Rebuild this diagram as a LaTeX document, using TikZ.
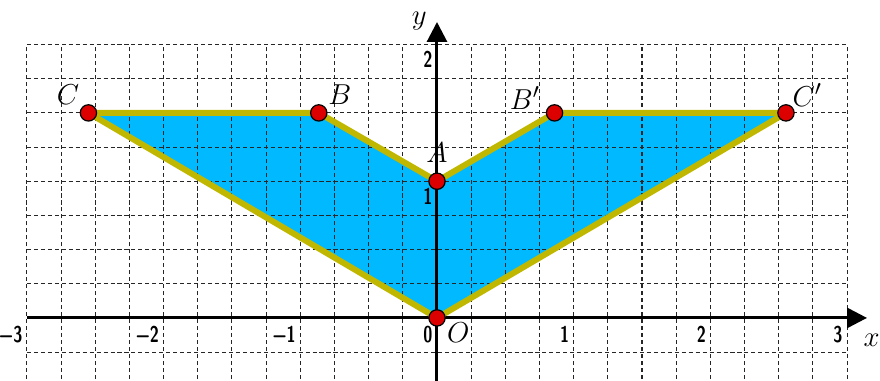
\documentclass[tikz,border=0pt]{standalone}
\usepackage{fontspec}
\usetikzlibrary{arrows.meta}

\definecolor{azzurro}{RGB}{0,185,255}
\definecolor{oliva}{RGB}{192,184,0}
\definecolor{rosso}{RGB}{220,0,0}
\newcommand{\numstretto}[1]{\scalebox{0.72}[1]{#1}}

\begin{document}
\begin{tikzpicture}[x=2cm, y=2cm, >={Triangle[length=8.3pt,width=8.3pt]},
    griglia/.style={black!85, line width=0.45pt, dash pattern=on 1.7pt off 1.2pt},
    asse/.style={->, line width=1.25pt},
    lato/.style={oliva, line width=2.5pt, line join=round},
    punto/.style={circle, fill=rosso, draw=black, line width=0.5pt, inner sep=0pt, minimum size=6.8pt},
    lettera/.style={font=\fontsize{13}{15}\selectfont, inner sep=0pt},
    tacca/.style={font=\fontsize{9.5}{10}\selectfont\sffamily\bfseries, inner sep=0pt, anchor=north east}]

    % Cornice
    \useasboundingbox (-3.197,-0.461) rectangle (3.241,2.326);
    \clip (-3.197,-0.461) rectangle (3.241,2.326);

    % Punti
    \coordinate (O) at (0,0);
    \coordinate (A) at (0,1);
    \coordinate (B) at (-0.865,1.5);
    \coordinate (C) at (-2.55,1.5);
    \coordinate (B1) at (0.86,1.5);
    \coordinate (C1) at (2.553,1.5);

    % Regione colorata
    \fill[azzurro] (O) -- (C) -- (B) -- (A) -- (B1) -- (C1) -- cycle;

    % Griglia tratteggiata
    \draw[griglia] (-3,-0.75) grid[step=0.25] (3,2);

    % Assi
    \coordinate (xsx) at (-3,0);
    \coordinate (xdx) at (3.146,0);
    \coordinate (ygiu) at (0,-0.6);
    \coordinate (ysu) at (0,2.165);
    \draw[asse] (xsx) -- (xdx);
    \draw[asse] (ygiu) -- (ysu);
    \node[lettera] (lx) at (3.18,-0.16) {$x$};
    \node[lettera] (ly) at (-0.13,2.17) {$y$};

    % Tacche
    \node[tacca] (tm3) at (-3.03,-0.06) {\numstretto{−3}};
    \node[tacca] (tm2) at (-2.03,-0.06) {\numstretto{−2}};
    \node[tacca] (tm1) at (-1.03,-0.06) {\numstretto{−1}};
    \node[tacca] (t0) at (-0.03,-0.06) {\numstretto{0}};
    \node[tacca] (t1) at (0.97,-0.06) {\numstretto{1}};
    \node[tacca] (t2) at (1.97,-0.06) {\numstretto{2}};
    \node[tacca] (t3) at (2.97,-0.06) {\numstretto{3}};
    \node[tacca] (ty1) at (-0.03,0.955) {\numstretto{1}};
    \node[tacca] (ty2) at (-0.03,1.955) {\numstretto{2}};

    % Contorno
    \draw[lato] (O) -- (C) -- (B) -- (A) -- (B1) -- (C1) -- cycle;

    % Vertici
    \node[punto] (pO) at (O) {};
    \node[punto] (pA) at (A) {};
    \node[punto] (pB) at (B) {};
    \node[punto] (pC) at (C) {};
    \node[punto] (pB1) at (B1) {};
    \node[punto] (pC1) at (C1) {};

    % Nomi dei vertici
    \node[lettera] (lO) at (0.155,-0.11) {$O$};
    \node[lettera] (lA) at (0,1.21) {$A$};
    \node[lettera] (lB) at (-0.71,1.63) {$B$};
    \node[lettera] (lC) at (-2.70,1.63) {$C$};
    \node[lettera] (lB1) at (0.644,1.61) {$B'$};
    \node[lettera] (lC1) at (2.71,1.63) {$C'$};

\end{tikzpicture}
\end{document}
